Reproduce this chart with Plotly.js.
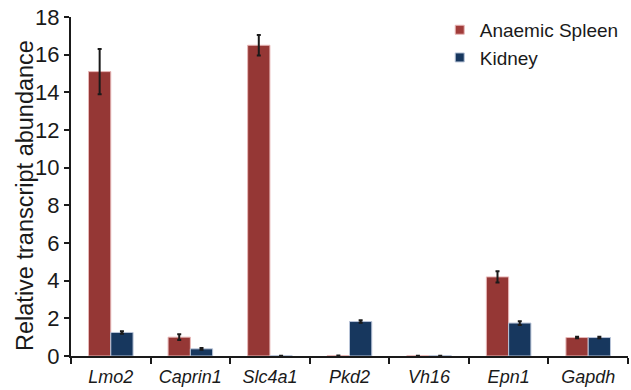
<!DOCTYPE html>
<html><head><meta charset="utf-8">
<script src="https://cdn.plot.ly/plotly-3.0.1.min.js"></script>
<style>body{margin:0;background:#fff}#c{width:631px;height:390px}</style>
</head><body><div id="c"></div>
<script>
const genes = ["Lmo2","Caprin1","Slc4a1","Pkd2","Vh16","Epn1","Gapdh"];
const spleen = [15.1, 1.0, 16.5, 0.02, 0.01, 4.2, 0.98];
const spleenErr = [1.2, 0.15, 0.55, 0.0, 0.0, 0.3, 0.04];
const kidney = [1.25, 0.38, 0.01, 1.83, 0.01, 1.75, 0.98];
const kidneyErr = [0.07, 0.05, 0.0, 0.07, 0.0, 0.1, 0.04];
const yTitle = 'Relative transcript abundance';

const errStyle = {type:'data', visible:true, color:'#1a1a1a', thickness:2, width:2};
const traces = [
  {type:'bar', name:'Anaemic Spleen', x:genes, y:spleen, showlegend:false,
   error_y:Object.assign({array:spleenErr}, errStyle),
   marker:{color:'#953735', line:{color:'#e8b8b8', width:1}}},
  {type:'bar', name:'Kidney', x:genes, y:kidney, showlegend:false,
   error_y:Object.assign({array:kidneyErr}, errStyle),
   marker:{color:'#17375E', line:{color:'#b8c4d8', width:1}}},
  {type:'scatter', mode:'markers', name:'Anaemic Spleen', x:[null], y:[null],
   marker:{symbol:'square', size:9, color:'#A13C3A', line:{color:'#e8b8b8', width:1}}},
  {type:'scatter', mode:'markers', name:'Kidney', x:[null], y:[null],
   marker:{symbol:'square', size:9, color:'#17375E', line:{color:'#b8c4d8', width:1}}}
];
const layout = {
  width:631, height:390,
  margin:{l:71, r:3, t:17, b:34},
  paper_bgcolor:'#fff', plot_bgcolor:'#fff',
  font:{family:'Liberation Sans, Arial, sans-serif', color:'#1a1a1a'},
  barmode:'group', bargap:0.44, bargroupgap:0,
  showlegend:true,
  legend:{x:0.662, y:1.018, xanchor:'left', yanchor:'top', font:{size:19}, bgcolor:'rgba(0,0,0,0)', tracegroupgap:0, itemwidth:30},
  xaxis:{type:'category', showline:true, linecolor:'#1a1a1a', linewidth:2,
         ticks:'outside', tickson:'boundaries', ticklen:6, tickwidth:2, tickcolor:'#1a1a1a',
         tickvals:genes, ticktext:genes.map(g=>'<i>'+g+'</i>'), ticklabelstandoff:3,
         tickfont:{size:18}, showgrid:false, zeroline:false},
  yaxis:{range:[0,18], dtick:2, showline:true, linecolor:'#1a1a1a', linewidth:2,
         ticks:'outside', ticklen:5, tickwidth:2, tickcolor:'#1a1a1a',
         tickfont:{size:22}, showgrid:false, zeroline:false},
  annotations:[{text:yTitle, xref:'paper', yref:'paper', x:-0.0826, y:0.475,
                xanchor:'center', yanchor:'middle', textangle:-90, showarrow:false,
                font:{size:23.5}}]
};
Plotly.newPlot('c', traces, layout, {staticPlot:true, displayModeBar:false});
</script></body></html>
